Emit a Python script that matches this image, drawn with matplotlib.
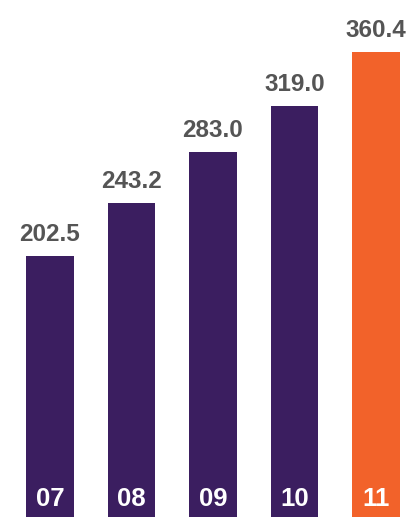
import matplotlib.pyplot as plt

years = ['07', '08', '09', '10', '11']
values = [202.5, 243.2, 283.0, 319.0, 360.4]
colors = ['#3b1e60', '#3b1e60', '#3b1e60', '#3b1e60', '#f2622a']

fig = plt.figure(figsize=(4.07, 5.17), dpi=100)
ax = fig.add_axes([0, 0, 1, 1])

x = range(len(values))
bars = ax.bar(x, values, width=0.58, color=colors)

font = ['Liberation Sans', 'DejaVu Sans']
for b, v, yr in zip(bars, values, years):
    cx = b.get_x() + b.get_width() / 2
    ax.text(cx, v + 11.6, f'{v:.1f}', ha='center', va='baseline',
            fontsize=17.5, fontweight='bold', color='#555555', family=font)
    ax.text(cx, 8.5, yr, ha='center', va='baseline',
            fontsize=18.5, fontweight='bold', color='white', family=font)

ax.set_xlim(-0.613, 4.38)
ax.set_ylim(0, 401)
ax.axis('off')

fig.savefig('out.png', dpi=100)
